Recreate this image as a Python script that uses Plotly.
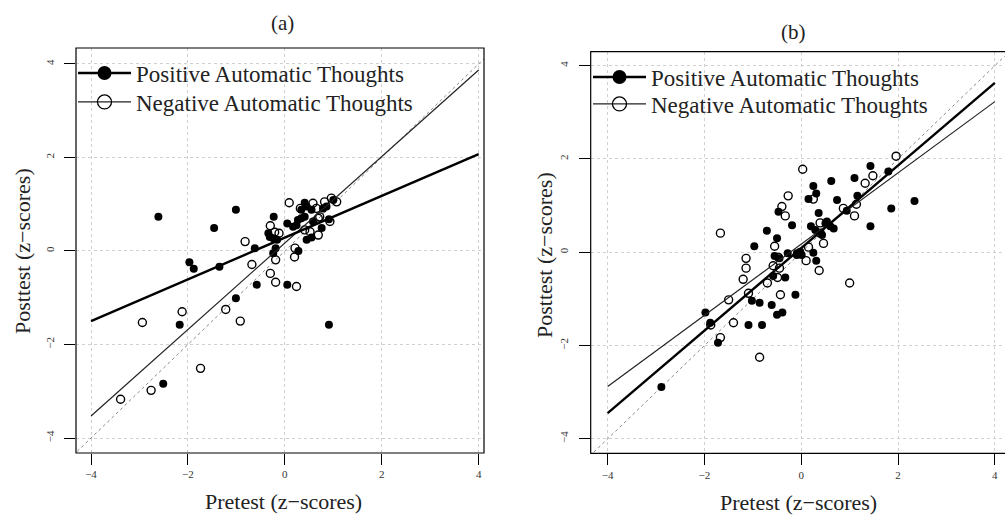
import plotly.graph_objects as go

W, H = 1005, 516

# ---------------- data ----------------
# Panel (a)
a_pos_x = [-2.61, -1.01, -1.46, -1.97, -1.88, -1.35, -0.62, -0.58, 0.05, -1.01, -2.17, 0.91, -2.51,
           0.28, -0.23, 0.05, -0.34, -0.31, -0.24, -0.16, -0.19, -0.24, 0.41, 0.34, 1.00, 0.79, 0.55,
           0.91, 0.17, 0.34, 0.58, 0.76, 0.45, 0.55, 0.27, 0.41, 0.86, 0.45, 0.24]
a_pos_y = [0.73, 0.88, 0.49, -0.24, -0.38, -0.34, 0.06, -0.72, -0.72, -1.01, -1.58, -1.58, -2.84,
           0.00, 0.73, 0.59, 0.38, 0.30, 0.27, 0.24, 0.06, -0.05, 1.03, 0.88, 1.09, 0.91, 0.88,
           0.68, 0.52, 0.70, 0.63, 0.49, 0.24, 0.29, 0.66, 0.73, 0.95, 0.95, 0.55]
a_neg_x = [0.09, -0.30, -0.82, -0.68, -0.30, -0.19, -0.19, 0.20, 0.24, -2.12, -2.94, -1.22, -0.92,
           -1.74, -2.76, -3.39, 0.58, 0.82, 1.07, 0.32, 0.72, 0.41, 0.69, -0.12, 0.69, 0.52, 0.21,
           0.93, 0.65, 0.96, -0.21]
a_neg_y = [1.03, 0.54, 0.20, -0.29, -0.48, -0.67, -0.19, -0.13, -0.76, -1.30, -1.53, -1.25, -1.50,
           -2.51, -2.98, -3.17, 1.02, 1.05, 1.05, 0.91, 0.73, 0.45, 0.34, 0.38, 0.70, 0.41, 0.06,
           0.63, 0.91, 1.13, 0.40]

# Panel (b)
b_pos_x = [-2.89, -1.98, -1.88, -1.72, -1.09, -0.81, -1.02, -0.86, -0.61, -0.50, -0.39, -0.12, -0.33,
           -0.58, -0.97, -0.71, -0.50, -0.47, -0.19, -0.55, -0.45, -0.28, -0.09, -0.09, 0.01, -0.02,
           0.25, 0.31, 0.15, 0.25, 0.31, 0.36, 0.20, 0.29, 0.43, 0.50, 0.53, 0.60, 0.67, 0.62, 0.74,
           0.94, 1.10, 1.16, 1.43, 1.43, 1.80, 1.86, 2.34]
b_pos_y = [-2.89, -1.29, -1.51, -1.94, -1.56, -1.56, -1.04, -1.08, -1.13, -1.34, -1.29, -0.91, -0.54,
           -0.51, 0.13, 0.46, 0.30, 0.87, 0.58, -0.08, -0.13, -0.02, -0.02, -0.06, -0.06, 0.01,
           -0.01, -0.18, 1.14, 1.42, 1.26, 0.84, 0.56, 0.48, 0.37, 0.62, 0.66, 0.56, 0.51, 1.53, 1.12,
           0.89, 1.59, 1.21, 1.85, 0.56, 1.73, 0.94, 1.10]
b_neg_x = [-1.67, -1.14, -1.14, -1.20, -1.50, -1.40, -1.87, -1.67, -0.86, -1.09, -0.70, -0.43, -0.49,
           -0.58, -0.45, -0.55, -0.40, -0.27, -0.33, 0.03, 0.25, 0.10, 0.15, 0.37, 0.46, 0.39, 0.39,
           0.87, 1.10, 1.14, 1.32, 1.48, 1.96, 1.00, -0.47]
b_neg_y = [0.41, -0.13, -0.34, -0.58, -1.02, -1.51, -1.56, -1.83, -2.25, -0.88, -0.66, -0.91, -0.54,
           -0.29, -0.34, 0.13, 0.98, 1.21, 0.78, 1.78, 1.14, -0.18, 0.11, -0.39, 0.19, 0.41, 0.63,
           0.94, 0.78, 1.03, 1.48, 1.64, 2.06, -0.66, -0.11]

# fitted lines (end points read at x = -4 and x = 4)
fit_x = [-4, 4]
a_pos_fit = [-1.50, 2.07]
a_neg_fit = [-3.53, 3.87]
b_pos_fit = [-3.45, 3.63]
b_neg_fit = [-2.88, 3.23]
identity = [-5, 5]

tick_vals = [-4, -2, 0, 2, 4]
tick_text = ["\u22124", "\u22122", "0", "2", "4"]

legend_names = ["Positive Automatic Thoughts", "Negative Automatic Thoughts"]

SERIF = "Liberation Serif"

fig = go.Figure()


def add_panel(xa, ya, pos_x, pos_y, neg_x, neg_y, pos_fit, neg_fit, leg_pos, leg_neg):
    fig.add_trace(go.Scatter(x=identity, y=identity, xaxis=xa, yaxis=ya, mode="lines",
                             line=dict(color="#8a8a8a", width=1, dash="dot"),
                             showlegend=False, hoverinfo="skip"))
    fig.add_trace(go.Scatter(x=pos_x, y=pos_y, xaxis=xa, yaxis=ya, mode="markers",
                             marker=dict(symbol="circle", size=8, color="black"),
                             showlegend=False))
    fig.add_trace(go.Scatter(x=neg_x, y=neg_y, xaxis=xa, yaxis=ya, mode="markers",
                             marker=dict(symbol="circle-open", size=8, color="black",
                                         line=dict(width=1.4, color="black")),
                             showlegend=False))
    fig.add_trace(go.Scatter(x=fit_x, y=neg_fit, xaxis=xa, yaxis=ya, mode="lines",
                             line=dict(color="#222", width=1.2), showlegend=False))
    fig.add_trace(go.Scatter(x=fit_x, y=pos_fit, xaxis=xa, yaxis=ya, mode="lines",
                             line=dict(color="black", width=2.4), showlegend=False))
    # legend entries
    fig.add_trace(go.Scatter(x=[None], y=[None], xaxis=xa, yaxis=ya, mode="lines+markers",
                             name=legend_names[0], legend=leg_pos,
                             line=dict(color="black", width=2.6),
                             marker=dict(symbol="circle", size=14, color="black")))
    fig.add_trace(go.Scatter(x=[None], y=[None], xaxis=xa, yaxis=ya, mode="lines+markers",
                             name=legend_names[1], legend=leg_neg,
                             line=dict(color="#222", width=1.2),
                             marker=dict(symbol="circle-open", size=14, color="black",
                                         line=dict(width=1.3, color="black"))))


add_panel("x", "y", a_pos_x, a_pos_y, a_neg_x, a_neg_y, a_pos_fit, a_neg_fit, "legend", "legend2")
add_panel("x2", "y2", b_pos_x, b_pos_y, b_neg_x, b_neg_y, b_pos_fit, b_neg_fit, "legend3", "legend4")

axis_common = dict(
    tickmode="array", tickvals=tick_vals, ticktext=tick_text,
    ticks="outside", ticklen=11, tickwidth=1, tickcolor="black",
    showline=False, zeroline=False,
    showgrid=True, gridcolor="#d0d0d0", griddash="dot", gridwidth=1,
    tickfont=dict(family=SERIF, size=11, color="#333"),
)


def px_x(p):
    return p / W


def px_y(p):
    return 1 - p / H


leg_font = dict(family=SERIF, size=23, color="#222")


def leg(xp, yp):
    return dict(x=px_x(xp), y=px_y(yp), xanchor="left", yanchor="middle",
                bgcolor="rgba(0,0,0,0)", borderwidth=0, itemwidth=53, font=leg_font)


fig.update_layout(
    width=W, height=H,
    margin=dict(l=0, r=0, t=0, b=0),
    paper_bgcolor="white", plot_bgcolor="white",
    xaxis=dict(domain=[px_x(76), px_x(484)], range=[-4.31, 4.11], anchor="y", **axis_common),
    yaxis=dict(domain=[px_y(453), px_y(48)], range=[-4.32, 4.34], anchor="x", tickangle=-90,
               ticklabelstandoff=6, **axis_common),
    xaxis2=dict(domain=[px_x(590.7), 1.0], range=[-4.35, 4.21], anchor="y2", **axis_common),
    yaxis2=dict(domain=[px_y(453.3), px_y(51.7)], range=[-4.31, 4.30], anchor="x2", tickangle=-90,
                ticklabelstandoff=6, **axis_common),
    legend=leg(73, 73),
    legend2=leg(73, 102),
    legend3=leg(588, 77),
    legend4=leg(588, 104),
    showlegend=True,
)

# frames around the plotting regions
fig.add_shape(type="rect", xref="x domain", yref="y domain", x0=0, x1=1, y0=0, y1=1,
              line=dict(color="black", width=1.2), layer="above")
fig.add_shape(type="rect", xref="x2 domain", yref="y2 domain", x0=0, x1=1.05, y0=0, y1=1,
              line=dict(color="black", width=1.2), layer="above")

# titles and axis titles
text_font = dict(family=SERIF, size=22, color="#222")
annotations = [
    dict(text="(a)", x=px_x(282), y=px_y(23), font=dict(family=SERIF, size=21, color="#222")),
    dict(text="(b)", x=px_x(793), y=px_y(32), font=dict(family=SERIF, size=21, color="#222")),
    dict(text="Pretest (z\u2212scores)", x=px_x(283), y=px_y(501), font=text_font),
    dict(text="Pretest (z\u2212scores)", x=px_x(798), y=px_y(502), font=text_font),
    dict(text="Posttest (z\u2212scores)", x=px_x(22), y=px_y(251), textangle=-90, font=text_font),
    dict(text="Posttest (z\u2212scores)", x=px_x(544), y=px_y(255), textangle=-90, font=text_font),
]
for a in annotations:
    fig.add_annotation(xref="paper", yref="paper", showarrow=False,
                       xanchor="center", yanchor="middle", **a)

fig.write_html("out.html", config={"displayModeBar": False},
               post_script="document.body.style.margin='0';document.body.style.overflow='hidden';")
